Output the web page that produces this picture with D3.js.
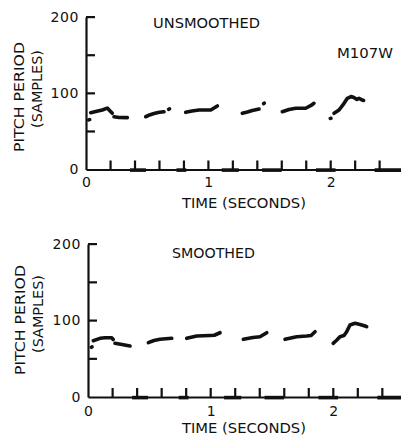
<!DOCTYPE html>
<html><head><meta charset="utf-8">
<script src="https://cdn.jsdelivr.net/npm/d3@7"></script>
<style>
body{margin:0;background:#fff}
text{font-family:"DejaVu Sans",sans-serif;fill:#111}
</style>
</head><body><svg id="c" width="401" height="437"></svg>
<script>
// ---- data ----
const yTicks = [0, 50, 100, 150, 200];
const yLabels = [0, 100, 200];
const xTicks = [0, 0.2, 0.4, 0.6, 0.8, 1.0, 1.2, 1.4, 1.6, 1.8, 2.0, 2.2, 2.4];
const xLabels = [0, 1, 2];

const unsmoothedTime = [0.022,0.03,null, 0.038,0.08,0.133,0.174,0.195,0.215,null, 0.229,0.27,0.338,null,
  0.488,0.52,0.556,0.6,0.638,null, 0.675,0.683,null, 0.815,0.867,0.924,0.97,1.02,1.074,null,
  1.278,1.32,1.36,1.415,null, 1.452,1.458,null, 1.605,1.66,1.715,1.796,1.84,1.864,null,
  1.997,2.003,null, 2.028,2.069,2.11,2.137,2.167,2.19,2.215,2.232,2.259,2.27];
const unsmoothedValue = [65,65.5,null, 74.5,76,78,80.5,77,73.7,null, 69.2,68.2,68,null,
  69.2,71.5,73.4,75,75.8,null, 79,79.6,null, 75,76.7,78,78,78,83.3,null,
  73.7,75.5,77.4,79.3,null, 86.5,87,null, 75.8,78.7,80.3,80.3,84,86.8,null,
  67,67.2,null, 73.7,78,86.8,93.4,95.7,94.4,92,93.4,91.1,90.5];

const smoothedTime = [0.027,0.033,null, 0.043,0.098,0.139,0.193,0.206,null, 0.22,0.277,0.343,null,
  0.492,0.538,0.587,0.683,null, 0.805,0.887,0.995,1.03,1.077,null,
  1.267,1.346,1.403,1.458,null, 1.607,1.702,1.784,1.82,1.852,null,
  2.0,2.03,2.055,2.088,2.11,2.137,2.178,2.219,2.26,2.273];
const smoothedValue = [65,65.5,null, 73.6,76.7,77.5,77.5,75.2,null, 70.2,68.6,66.7,null,
  71,73.9,75.4,76.7,null, 76.7,79.7,80.4,80.7,84,null,
  75.4,77.8,78.8,84,null, 75.4,78.8,79.7,80.4,85.4,null,
  70.2,74.5,78.8,80.4,85.4,94.1,96.3,94.8,92.8,91.9];

const unvoicedStart = [0.36, 0.74, 1.11, 1.44, 1.88, 2.36];
const unvoicedEnd   = [0.49, 0.82, 1.25, 1.60, 2.04, 2.62];

// ---- drawing ----
const svg = d3.select("#c");

function panel(cfg) {
  const x = d3.scaleLinear().domain([0, 2.6]).range([cfg.x0, cfg.x0 + 2.6 * cfg.pxPerSec]);
  const y = d3.scaleLinear().domain([0, 200]).range([cfg.yBottom, cfg.yTop]);
  const g = svg.append("g");

  const ya = g.append("g").attr("transform", `translate(${x(0)},0)`)
    .call(d3.axisLeft(y).tickValues(yTicks).tickSize(0).tickPadding(7)
      .tickFormat(d => yLabels.includes(d) ? d : ""));
  ya.select(".domain").attr("stroke", "#111").attr("stroke-width", 2.2);
  ya.selectAll(".tick text").attr("font-size", 14).attr("letter-spacing", 0.6);

  const xa = g.append("g").attr("transform", `translate(0,${y(0)})`)
    .call(d3.axisBottom(x).tickValues(xTicks).tickSize(0).tickPadding(cfg.xPad)
      .tickFormat(d => xLabels.some(v => Math.abs(v - d) < 1e-9) ? d3.format("d")(d) : ""));
  xa.select(".domain").attr("stroke", "#111").attr("stroke-width", 2.2);
  xa.selectAll(".tick text").attr("font-size", 14);

  // tick marks (pointing inward), drawn as thin filled rectangles
  g.append("g").selectAll("rect").data(yTicks.filter(v => v > 0)).join("rect")
    .attr("x", x(0)).attr("y", d => y(d) - 1).attr("width", 9).attr("height", 2.2)
    .attr("fill", "#111");
  g.append("g").selectAll("rect").data(xTicks.filter(v => v > 0)).join("rect")
    .attr("x", d => x(d) - 1).attr("y", y(0) - 9).attr("width", 2.2).attr("height", 9)
    .attr("fill", "#111");

  g.append("g").selectAll("line").data(unvoicedStart).join("line")
    .attr("x1", (d) => x(d)).attr("x2", (d, i) => x(unvoicedEnd[i]))
    .attr("y1", y(0) + 0.6).attr("y2", y(0) + 0.6)
    .attr("stroke", "#111").attr("stroke-width", 3.6);

  const pts = cfg.t.map((t, i) => [t, cfg.v[i]]);
  const line = d3.line().defined(d => d[0] != null && d[1] != null)
    .x(d => x(d[0])).y(d => y(d[1]));
  g.append("path").attr("d", line(pts)).attr("fill", "none")
    .attr("stroke", "#111").attr("stroke-width", 3.6)
    .attr("stroke-linecap", "round").attr("stroke-linejoin", "round");

  g.append("text").attr("x", cfg.titleX).attr("y", cfg.titleY).attr("font-size", 13.5)
    .attr("textLength", cfg.titleLen).attr("lengthAdjust", "spacingAndGlyphs").text(cfg.title);
  g.append("text").attr("x", 182).attr("y", cfg.xTitleY).attr("font-size", 13.5)
    .attr("textLength", 124).attr("lengthAdjust", "spacingAndGlyphs").text("TIME (SECONDS)");
  g.append("text").attr("transform", `translate(${cfg.yT1x},${cfg.yT1c}) rotate(-90)`)
    .attr("text-anchor", "middle").attr("font-size", 14.5)
    .attr("textLength", 110).attr("lengthAdjust", "spacingAndGlyphs").text("PITCH PERIOD");
  g.append("text").attr("transform", `translate(${cfg.yT2x},${cfg.yT2c}) rotate(-90)`)
    .attr("text-anchor", "middle").attr("font-size", 14.5)
    .attr("textLength", 78).attr("lengthAdjust", "spacingAndGlyphs").text("(SAMPLES)");
  return g;
}

const topPanel = panel({x0: 86, pxPerSec: 122.3, yBottom: 169.5, yTop: 17, xPad: 8,
  t: unsmoothedTime, v: unsmoothedValue, title: "UNSMOOTHED", titleX: 153, titleY: 28, titleLen: 107,
  xTitleY: 208, yT1x: 24, yT1c: 97, yT2x: 42, yT2c: 89});
topPanel.append("text").attr("x", 337).attr("y", 58).attr("font-size", 13.5)
  .attr("textLength", 56).attr("lengthAdjust", "spacingAndGlyphs").text("M107W");

panel({x0: 88, pxPerSec: 122.6, yBottom: 397, yTop: 244, xPad: 9,
  t: smoothedTime, v: smoothedValue, title: "SMOOTHED", titleX: 172, titleY: 258, titleLen: 83,
  xTitleY: 433, yT1x: 25, yT1c: 320, yT2x: 43, yT2c: 314});
</script>
</body></html>
